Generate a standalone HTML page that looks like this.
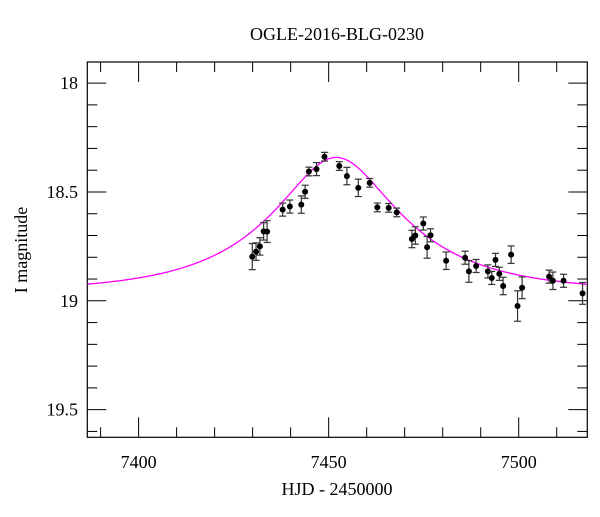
<!DOCTYPE html>
<html><head><meta charset="utf-8"><style>
body{margin:0;background:#fff}
svg text{font-family:"Liberation Serif",serif;fill:#000}
</style></head><body>
<svg id="c" width="600" height="512" xmlns="http://www.w3.org/2000/svg"></svg>
<script>
const hjd=[7429.9,7430.9,7431.9,7432.9,7433.8,7437.9,7439.8,7442.8,7443.8,7444.8,7446.8,7448.9,7452.8,7454.8,7457.8,7460.8,7462.8,7465.8,7467.9,7471.9,7472.8,7474.9,7475.9,7476.8,7480.9,7485.9,7486.9,7488.8,7491.9,7492.9,7493.9,7494.9,7495.9,7498.0,7499.7,7500.9,7508.0,7509.0,7511.8,7516.8];
const mag=[18.797,18.774,18.750,18.681,18.682,18.581,18.567,18.558,18.499,18.406,18.395,18.338,18.381,18.427,18.481,18.458,18.571,18.573,18.594,18.716,18.700,18.645,18.754,18.699,18.816,18.802,18.865,18.840,18.865,18.895,18.812,18.876,18.932,18.788,19.024,18.940,18.889,18.908,18.908,18.966];
const err=[0.06,0.04,0.04,0.04,0.05,0.03,0.03,0.04,0.03,0.02,0.03,0.02,0.02,0.04,0.04,0.02,0.02,0.02,0.02,0.04,0.04,0.03,0.05,0.03,0.04,0.03,0.05,0.03,0.03,0.03,0.03,0.03,0.04,0.04,0.07,0.05,0.03,0.04,0.03,0.05];
const xTicks=[7400,7450,7500];
const yTicks=[18,18.5,19,19.5];
const model=[7452,35,0.42,0.5,18.96]; // t0,tE,u0,fs,Ibase
const L=87.3,R=587.3,T=62,B=437.3;
const xmin=7386.5,xmax=7518.05,ymin=17.903,ymax=19.627;
const X=v=>L+(v-xmin)/(xmax-xmin)*(R-L);
const Y=v=>T+(v-ymin)/(ymax-ymin)*(B-T);
const svg=document.getElementById('c');const NS='http://www.w3.org/2000/svg';
function mk(t,a,p){const e=document.createElementNS(NS,t);for(const k in a)e.setAttribute(k,a[k]);(p||svg).appendChild(e);return e;}
function ln(x1,y1,x2,y2,s,w,p){return mk('line',{x1,y1,x2,y2,stroke:s||'#000','stroke-width':w||1},p);}
const frame=mk('rect',{x:L,y:T,width:R-L,height:B-T,fill:'none',stroke:'#000','stroke-width':1.2});


const ax=mk('g',{});


for(let d=7390;d<=7510;d+=10){const x=X(d);const mj=d%50===0;const l=mj?20:10;ln(x,B,x,B-l,'#000',1,ax);ln(x,T,x,T+l,'#000',1,ax);}
for(let m=17.9;m<=19.65;m+=0.1){const mm=Math.round(m*10)/10;if(mm<ymin||mm>ymax)continue;const y=Y(mm);const mj=Math.abs(mm*2-Math.round(mm*2))<1e-6;const l=mj?19:10;ln(L,y,L+l,y,'#000',1,ax);ln(R,y,R-l,y,'#000',1,ax);}
xTicks.forEach(v=>{const t=mk('text',{x:X(v),y:468,'text-anchor':'middle','font-size':18});t.textContent=v;

});
yTicks.forEach(v=>{const t=mk('text',{x:78,y:Y(v)+6,'text-anchor':'end','font-size':18});t.textContent=v;

});
const ti=mk('text',{x:337,y:40,'text-anchor':'middle','font-size':18});ti.textContent='OGLE-2016-BLG-0230';


const xl=mk('text',{x:337,y:495,'text-anchor':'middle','font-size':18});xl.textContent='HJD - 2450000';


const yl=mk('text',{x:0,y:0,'text-anchor':'middle','font-size':18,transform:'translate(27,250) rotate(-90)'});yl.textContent='I magnitude';


// model curve
function modelMag(t){const [t0,tE,u0,fs,Ib]=model;const tau=(t-t0)/tE;const u=Math.sqrt(u0*u0+tau*tau);const A=(u*u+2)/(u*Math.sqrt(u*u+4));return Ib-2.5*Math.log10(fs*A+1-fs);}
let d='';for(let t=xmin;t<=xmax;t+=0.25){d+=(d?'L':'M')+X(t).toFixed(2)+','+Y(modelMag(t)).toFixed(2);}
const cp=mk('clipPath',{id:'cl'});mk('rect',{x:L,y:T,width:R-L,height:B-T},cp);
const curve=mk('path',{d,fill:'none',stroke:'#ff00ff','stroke-width':1.3,'clip-path':'url(#cl)'});


const pts=mk('g',{});


hjd.forEach((t,i)=>{const g=mk('g',{},pts);


const x=X(t),y1=Y(mag[i]-err[i]),y2=Y(mag[i]+err[i]);
ln(x,y1,x,y2,'#333',1.2,g);ln(x-3.5,y1,x+3.5,y1,'#333',1.2,g);ln(x-3.5,y2,x+3.5,y2,'#333',1.2,g);
mk('circle',{cx:x,cy:Y(mag[i]),r:3,fill:'#000'},g);});
</script>
</body></html>
